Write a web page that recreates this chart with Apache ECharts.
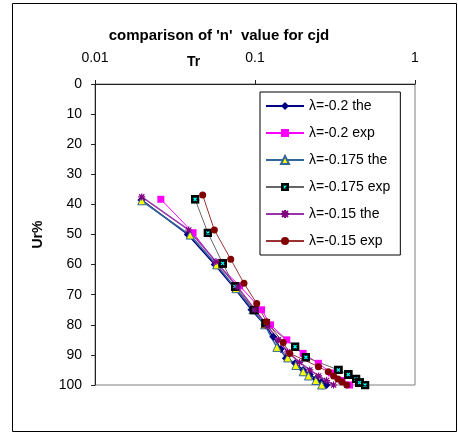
<!DOCTYPE html>
<html>
<head>
<meta charset="utf-8">
<script src="https://cdn.jsdelivr.net/npm/echarts@6/dist/echarts.min.js"></script>
<style>
html,body{margin:0;padding:0;background:#fff;}
#c{width:458px;height:433px;}
</style>
</head>
<body>
<div id="c"></div>
<script>
// Tr values (x, log scale) and Ur% values (y) for each series
const the02_Tr = [0.0195,0.038,0.056,0.075,0.095,0.115,0.13,0.145,0.156,0.178,0.20,0.22,0.24,0.26,0.28];
const the02_Ur = [38.5,50,60,68,75,80,84,88,91.1,92.8,95,96.5,98,99,100];

const exp02_Tr = [0.0258,0.041,0.058,0.080,0.110,0.125,0.158,0.20,0.249,0.30,0.35,0.39];
const exp02_Ur = [38.3,49.4,59.8,67,75,80,85,89.5,92.8,96,98.5,100];

const the0175_Tr = [0.0196,0.0393,0.0576,0.076,0.097,0.115,0.137,0.16,0.18,0.20,0.216,0.24,0.261];
const the0175_Ur = [38.8,50.2,60.1,68,75,80,87.5,91,93.5,95.6,97,98.5,100];

const exp0175_Tr = [0.0422,0.0508,0.0628,0.075,0.099,0.1165,0.178,0.208,0.332,0.383,0.428,0.45,0.487];
const exp0175_Ur = [38.3,49.5,59.6,67.3,75.1,79.5,87.3,90.8,95.0,96.5,98.0,99.2,100];

const the015_Tr = [0.0196,0.0385,0.057,0.078,0.10,0.12,0.14,0.16,0.19,0.22,0.25,0.28,0.31];
const the015_Ur = [37.5,48.5,59,67.5,75,80.5,85,89,92.5,95,97,98.5,100];

const exp015_Tr = [0.0471,0.0557,0.0705,0.0853,0.1025,0.118,0.150,0.165,0.249,0.287,0.31,0.33,0.35,0.375];
const exp015_Ur = [36.9,48.5,58.2,66.2,72.9,79,85.9,89.5,93.9,95.6,97,98,99,100];

const seriesNames = ['λ=-0.2 the','λ=-0.2 exp','λ=-0.175 the','λ=-0.175 exp','λ=-0.15 the','λ=-0.15 exp'];
const xTicks = [0.01, 0.1, 1];
const yTicks = [0,10,20,30,40,50,60,70,80,90,100];

function pairs(xs, ys){ return xs.map((x,i)=>[x, ys[i]]); }

const boxSvg = "<svg xmlns='http://www.w3.org/2000/svg' width='9' height='9'><rect width='9' height='9' fill='#000000'/><path d='M3 3L6 6M6 3L3 6' stroke='#00FFFF' stroke-width='1.3'/></svg>";
const boxSymbol = 'image://data:image/svg+xml;charset=utf-8,' + encodeURIComponent(boxSvg);
const starSymbol = 'path://M4 0V8M0 4H8M1 1L7 7M7 1L1 7';

const font = 'Liberation Sans, Arial, sans-serif';
const chart = echarts.init(document.getElementById('c'), null, {renderer:'canvas'});

const option = {
  animation: false,
  backgroundColor: '#fff',
  title: {
    text: "comparison of 'n'  value for cjd",
    left: 214, top: 23, textAlign: 'center',
    textStyle: {fontFamily: font, fontSize: 15, fontWeight: 'bold', color: '#000'}
  },
  graphic: [
    {type:'rect', shape:{x:12.5, y:3.5, width:444, height:428}, style:{fill:null, stroke:'#000', lineWidth:1}, silent:true, z:-10},
    {type:'text', left: 187, top: 55, style:{text:'Tr', font:'bold 14px ' + font, fill:'#000'}}
  ],
  legend: {
    orient: 'vertical',
    left: 260, top: 92,
    padding: [7, 10, 7, 5],
    itemWidth: 38, itemHeight: 10, itemGap: 13,
    borderColor: '#000', borderWidth: 1,
    backgroundColor: '#fff',
    data: seriesNames,
    textStyle: {fontFamily: font, fontSize: 14, color: '#000'}
  },
  grid: {
    left: 95, top: 84, right: 43, bottom: 48,
    show: true, borderColor: '#808080', borderWidth: 1
  },
  xAxis: {
    type: 'log', logBase: 10, min: 0.01, max: 1, position: 'top',
    axisLine: {show:true, lineStyle:{color:'#222', width:1}},
    axisTick: {show:true, inside:false, length:4, lineStyle:{color:'#222'}},
    axisLabel: {margin: 19, fontFamily: font, fontSize: 14, color:'#000',
      formatter: v => { const m = xTicks.find(t => Math.abs(t - v) < 1e-9); return m === undefined ? '' : String(m); }},
    splitLine: {show:false}, minorTick:{show:false}
  },
  yAxis: {
    type: 'value', min: 0, max: 100, interval: 10, inverse: true,
    name: 'Ur%', nameLocation: 'middle', nameGap: 50, nameRotate: 90,
    nameTextStyle: {fontFamily: font, fontSize: 14, fontWeight:'bold', color:'#000'},
    axisLine: {show:true, lineStyle:{color:'#222', width:1}},
    axisTick: {show:true, inside:false, length:4, lineStyle:{color:'#222'}},
    axisLabel: {margin: 13, fontFamily: font, fontSize: 14, color:'#000',
      formatter: v => yTicks.includes(v) ? String(v) : ''},
    splitLine: {show:false}
  },
  series: [
    {name: seriesNames[0], type:'line', data: pairs(the02_Tr, the02_Ur),
     symbol:'diamond', symbolSize:8, itemStyle:{color:'#000080'}, lineStyle:{color:'#000080', width:1.5}},
    {name: seriesNames[1], type:'line', data: pairs(exp02_Tr, exp02_Ur),
     symbol:'rect', symbolSize:7, itemStyle:{color:'#FF00FF'}, lineStyle:{color:'#FF00FF', width:1}},
    {name: seriesNames[2], type:'line', data: pairs(the0175_Tr, the0175_Ur),
     symbol:'triangle', symbolSize:8, itemStyle:{color:'#FFFF00', borderColor:'#336699', borderWidth:1},
     lineStyle:{color:'#336699', width:1.5}},
    {name: seriesNames[3], type:'line', data: pairs(exp0175_Tr, exp0175_Ur),
     symbol: boxSymbol, symbolSize:9, itemStyle:{color:'#000000'}, lineStyle:{color:'#666666', width:1}},
    {name: seriesNames[4], type:'line', data: pairs(the015_Tr, the015_Ur),
     symbol: starSymbol, symbolSize:7, itemStyle:{color:'#800080', borderColor:'#800080', borderWidth:1.2},
     lineStyle:{color:'#9933AA', width:1.5}},
    {name: seriesNames[5], type:'line', data: pairs(exp015_Tr, exp015_Ur),
     symbol:'circle', symbolSize:7, itemStyle:{color:'#800000'}, lineStyle:{color:'#993333', width:1}}
  ]
};
chart.setOption(option);
</script>
</body>
</html>
